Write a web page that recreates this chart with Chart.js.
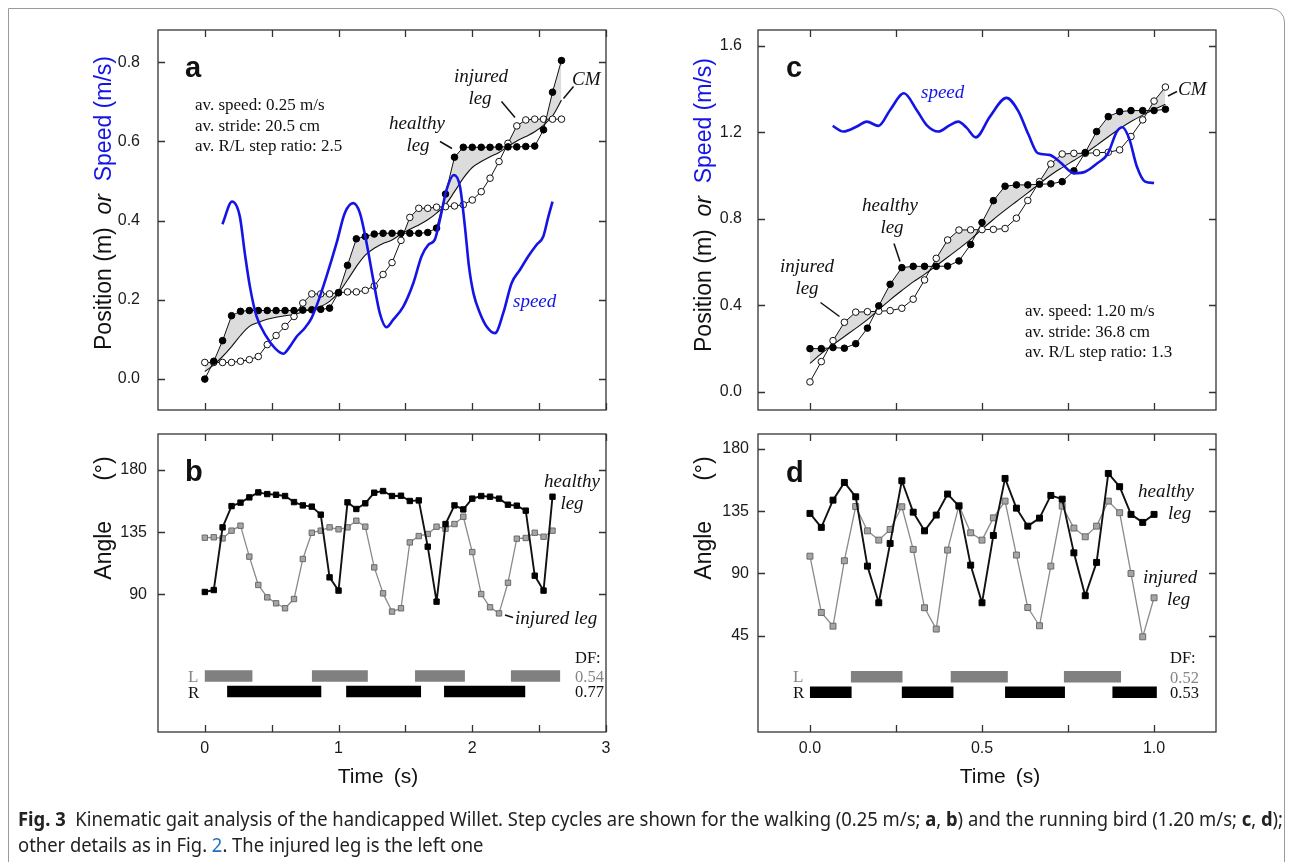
<!DOCTYPE html>
<html><head><meta charset="utf-8">
<script src="https://cdn.jsdelivr.net/npm/chart.js@4.4.1/dist/chart.umd.min.js"></script>
<style>
html,body{margin:0;padding:0;background:#fff;}
body{width:1293px;height:862px;position:relative;overflow:hidden;}
canvas{position:absolute;left:0;top:0;}
#frame{position:absolute;left:8px;top:8px;width:1277px;height:880px;border:1px solid #9a9a9a;border-top-right-radius:14px;box-sizing:border-box;}
#caption{position:absolute;left:18px;top:806px;font-family:'Liberation Sans Narrow','Noto Sans',sans-serif;font-size:19px;line-height:26px;color:#222;white-space:nowrap;z-index:5;}
#caption .ln{transform-origin:0 0;display:block;width:max-content;}
</style></head>
<body>
<div id="frame"></div>
<canvas id="ca" width="1293" height="862"></canvas>
<canvas id="cb" width="1293" height="862"></canvas>
<canvas id="cc" width="1293" height="862"></canvas>
<canvas id="cd" width="1293" height="862"></canvas>
<div id="caption"><span class="ln" id="cap1"><b>Fig. 3</b>&nbsp; Kinematic gait analysis of the handicapped Willet. Step cycles are shown for the walking (0.25 m/s; <b>a</b>, <b>b</b>) and the running bird (1.20 m/s; <b>c</b>, <b>d</b>);</span><span class="ln" id="cap2">other details as in Fig. <span style="color:#1f6fc5">2</span>. The injured leg is the left one</span></div>
<script>
// ---------- DATA ----------
// panel a / b : walking, frames at 15 Hz
const tA = [0,0.067,0.133,0.2,0.267,0.333,0.4,0.467,0.533,0.6,0.667,0.733,0.8,0.867,0.933,1.0,1.067,1.133,1.2,1.267,1.333,1.4,1.467,1.533,1.6,1.667,1.733,1.8,1.867,1.933,2.0,2.067,2.133,2.2,2.267,2.333,2.4,2.467,2.533,2.6,2.667];
const healthyPosA = [0.000,0.045,0.097,0.160,0.171,0.173,0.173,0.173,0.173,0.173,0.173,0.174,0.175,0.176,0.179,0.218,0.287,0.354,0.360,0.366,0.368,0.368,0.368,0.368,0.368,0.370,0.381,0.467,0.560,0.585,0.585,0.585,0.585,0.586,0.586,0.586,0.587,0.588,0.629,0.724,0.804];
const injuredPosA = [0.042,0.042,0.042,0.042,0.045,0.049,0.057,0.087,0.110,0.133,0.158,0.192,0.215,0.215,0.215,0.218,0.220,0.220,0.224,0.235,0.264,0.294,0.350,0.408,0.431,0.431,0.434,0.435,0.437,0.440,0.452,0.473,0.507,0.549,0.595,0.639,0.654,0.656,0.656,0.656,0.656];
const cmPosA = [0.019,0.036,0.057,0.082,0.110,0.133,0.143,0.151,0.156,0.160,0.163,0.170,0.176,0.183,0.196,0.218,0.250,0.284,0.313,0.330,0.342,0.351,0.366,0.378,0.389,0.402,0.419,0.440,0.473,0.507,0.534,0.549,0.561,0.572,0.587,0.601,0.612,0.624,0.641,0.664,0.704];
const speedTA = [0.132,0.204,0.262,0.299,0.337,0.387,0.461,0.524,0.586,0.636,0.686,0.748,0.798,0.848,0.910,0.985,1.047,1.110,1.160,1.210,1.260,1.309,1.359,1.409,1.484,1.559,1.621,1.671,1.720,1.758,1.808,1.863,1.908,1.945,1.975,2.010,2.057,2.107,2.170,2.232,2.294,2.357,2.419,2.481,2.531,2.569,2.600];
const speedA = [0.391,0.448,0.410,0.318,0.234,0.158,0.107,0.078,0.064,0.082,0.107,0.129,0.154,0.196,0.259,0.343,0.419,0.444,0.419,0.343,0.250,0.166,0.131,0.150,0.183,0.242,0.310,0.339,0.352,0.402,0.478,0.515,0.486,0.385,0.285,0.215,0.167,0.133,0.116,0.167,0.242,0.276,0.310,0.339,0.360,0.410,0.448];
const tB = tA.slice(0, 40);
const healthyAngB = [91.7,93.1,138.5,153.9,156.4,160.2,163.8,162.6,162.1,161.2,156.8,154.4,153.5,147.7,102.3,92.7,156.6,151.8,155.9,163.6,164.8,161.2,161.4,157.6,158.0,124.5,84.7,140.9,154.4,151.5,159.3,161.2,160.7,159.3,154.9,154.2,150.6,103.5,92.7,160.7];
const injuredAngB = [131.0,131.3,130.5,136.1,139.7,117.3,96.8,87.8,83.5,79.9,86.6,115.6,134.6,136.1,138.5,137.1,138.5,143.3,139.0,109.5,90.7,77.5,79.9,127.6,132.2,133.7,139.0,137.5,140.9,146.2,120.6,90.2,80.6,76.2,98.4,130.3,130.8,134.6,131.7,136.1];
const stanceLB = [[0,0.356],[0.801,1.219],[1.572,1.945],[2.289,2.657]];
const stanceRB = [[0.167,0.871],[1.057,1.617],[1.789,2.396]];
const dutyB = {L: '0.54', R: '0.77'};
const statsA = ['av. speed: 0.25 m/s', 'av. stride: 20.5 cm', 'av. R/L step ratio: 2.5'];

// panel c / d : running, frames at 30 Hz
const tC = [0,0.033,0.067,0.1,0.133,0.167,0.2,0.233,0.267,0.3,0.333,0.367,0.4,0.433,0.467,0.5,0.533,0.567,0.6,0.633,0.667,0.7,0.733,0.767,0.8,0.833,0.867,0.9,0.933,0.967,1.0,1.033];
const healthyPosC = [0.199,0.199,0.204,0.201,0.222,0.294,0.397,0.497,0.574,0.580,0.580,0.580,0.581,0.605,0.681,0.783,0.884,0.951,0.957,0.957,0.960,0.962,0.972,1.022,1.107,1.204,1.273,1.296,1.301,1.301,1.301,1.307];
const injuredPosC = [0.045,0.139,0.236,0.321,0.368,0.370,0.372,0.375,0.386,0.428,0.517,0.617,0.702,0.748,0.749,0.750,0.751,0.755,0.803,0.885,0.972,1.054,1.100,1.103,1.103,1.106,1.108,1.119,1.181,1.258,1.345,1.410];
const cmPosC = [0.131,0.176,0.217,0.255,0.293,0.333,0.380,0.425,0.468,0.508,0.543,0.583,0.622,0.662,0.705,0.752,0.797,0.840,0.880,0.920,0.963,1.003,1.037,1.070,1.103,1.140,1.180,1.217,1.250,1.280,1.306,1.330];
const speedTC = [0.066,0.097,0.136,0.165,0.199,0.233,0.273,0.310,0.339,0.373,0.407,0.431,0.455,0.482,0.523,0.571,0.605,0.635,0.662,0.696,0.727,0.768,0.800,0.835,0.865,0.892,0.908,0.928,0.950,0.974,1.000];
const speedC = [1.230,1.204,1.227,1.250,1.230,1.304,1.381,1.304,1.234,1.204,1.234,1.250,1.222,1.177,1.273,1.360,1.300,1.190,1.104,1.096,1.062,1.011,1.018,1.057,1.100,1.204,1.224,1.170,1.042,0.972,0.966];
const tD = tC.slice(0, 31);
const healthyAngD = [133.4,123.3,143.0,155.8,145.4,95.3,68.8,111.7,157.0,134.3,120.8,132.2,147.4,138.7,96.0,68.8,117.5,158.7,137.2,124.2,130.0,146.4,143.7,104.9,73.9,98.0,162.3,152.7,132.7,126.9,132.7];
const injuredAngD = [102.5,61.8,51.9,99.2,138.4,120.8,114.1,121.8,138.2,107.4,65.2,49.8,106.9,139.2,119.4,114.1,130.2,142.3,103.3,65.4,52.2,95.3,138.7,122.8,116.5,124.2,142.3,133.9,90.0,44.2,72.4];
const stanceLD = [[0.119,0.269],[0.409,0.575],[0.738,0.904]];
const stanceRD = [[0,0.121],[0.267,0.417],[0.567,0.741],[0.879,1.008]];
const dutyD = {L: '0.52', R: '0.53'};
const statsC = ['av. speed: 1.20 m/s', 'av. stride: 36.8 cm', 'av. R/L step ratio: 1.3'];

// tick values
const xTicksAB = [0,0.5,1,1.5,2,2.5,3];
const xTicksCD = [0,0.25,0.5,0.75,1];
const yTicksA = [0,0.2,0.4,0.6,0.8];
const yTicksB = [90,135,180];
const yTicksC = [0,0.4,0.8,1.2,1.6];
const yTicksD = [45,90,135,180];
const xLabelsAB = {0:'0',1:'1',2:'2',3:'3'};
const xLabelsCD = {0:'0.0',0.5:'0.5',1:'1.0'};

// ---------- STYLE / LAYOUT ----------
const SANS = "'Liberation Sans', Arial, sans-serif";
const SERIF = "'Liberation Serif', 'Times New Roman', serif";
const BLUE = '#1414e6';
const FILLGRAY = '#dcdcdc';
const GRAYLEG = '#858585';

const pts = (xs, ys) => xs.map((x, i) => ({x, y: ys[i]}));
function barData(intervals, level) {
  const d = [];
  intervals.forEach(([s, e], i) => { if (i) d.push({x: s, y: null}); d.push({x: s, y: level}, {x: e, y: level}); });
  return d;
}

const annots = {};

const framePlugin = {
  id: 'frameTicks',
  afterDatasetsDraw(chart) {
    const {ctx, chartArea: a, scales: {x, y}} = chart;
    ctx.save();
    ctx.strokeStyle = '#333'; ctx.lineWidth = 1.3;
    ctx.strokeRect(a.left, a.top, a.right - a.left, a.bottom - a.top);
    ctx.beginPath();
    x.ticks.forEach(t => { const p = Math.round(x.getPixelForValue(t.value)) + 0.5;
      ctx.moveTo(p, a.bottom); ctx.lineTo(p, a.bottom - 7); ctx.moveTo(p, a.top); ctx.lineTo(p, a.top + 7); });
    y.ticks.forEach(t => { const p = Math.round(y.getPixelForValue(t.value)) + 0.5;
      ctx.moveTo(a.left, p); ctx.lineTo(a.left + 7, p); ctx.moveTo(a.right, p); ctx.lineTo(a.right - 7, p); });
    ctx.stroke();
    ctx.restore();
  }
};

function measureParts(ctx, parts) {
  let total = 0;
  parts.forEach(p => { if (p.gap) { p.w = p.gap; } else { ctx.font = p.font; p.w = ctx.measureText(p.text).width; } total += p.w; });
  return total;
}
function drawRotated(ctx, cx, cy, parts) {
  ctx.save(); ctx.translate(cx, cy); ctx.rotate(-Math.PI / 2);
  const total = measureParts(ctx, parts);
  let x = -total / 2; ctx.textBaseline = 'middle'; ctx.textAlign = 'left';
  parts.forEach(p => { if (!p.gap) { ctx.font = p.font; ctx.fillStyle = p.color || '#111'; ctx.fillText(p.text, x, 0); } x += p.w; });
  ctx.restore();
}
function drawHoriz(ctx, cx, cy, parts) {
  const total = measureParts(ctx, parts);
  let x = cx - total / 2; ctx.textBaseline = 'middle'; ctx.textAlign = 'left';
  parts.forEach(p => { if (!p.gap) { ctx.font = p.font; ctx.fillStyle = p.color || '#111'; ctx.fillText(p.text, x, cy); } x += p.w; });
}

const textPlugin = {
  id: 'annotText',
  afterDraw(chart) {
    const cfg = annots[chart.canvas.id]; if (!cfg) return;
    const ctx = chart.ctx;
    ctx.save();
    (cfg.segs || []).forEach(s => { ctx.strokeStyle = '#111'; ctx.lineWidth = 1.5; ctx.beginPath(); ctx.moveTo(s[0], s[1]); ctx.lineTo(s[2], s[3]); ctx.stroke(); });
    (cfg.texts || []).forEach(t => {
      ctx.font = t.font; ctx.fillStyle = t.color || '#111'; ctx.textAlign = t.align || 'left'; ctx.textBaseline = 'alphabetic';
      ctx.fillText(t.text, t.x, t.y);
    });
    if (cfg.ytitle) drawRotated(ctx, cfg.ytitle.x, cfg.ytitle.y, cfg.ytitle.parts);
    if (cfg.xtitle) drawHoriz(ctx, cfg.xtitle.x, cfg.xtitle.y, cfg.xtitle.parts);
    ctx.restore();
  }
};

function makeChart(id, o) {
  const a = o.area;
  return new Chart(document.getElementById(id), {
    type: 'line',
    data: {datasets: o.datasets},
    options: {
      responsive: false, animation: false, devicePixelRatio: 1,
      layout: {padding: {left: a.l - 60, top: a.t, right: 1293 - a.r, bottom: 862 - a.b - 40}},
      plugins: {legend: {display: false}, tooltip: {enabled: false}, filler: {drawTime: 'beforeDatasetsDraw', propagate: false}},
      elements: {line: {borderJoinStyle: 'round'}},
      scales: {
        x: {type: 'linear', min: o.xr[0], max: o.xr[1], grid: {display: false, drawTicks: false}, border: {display: false},
            afterBuildTicks: s => { s.ticks = o.xTicks.map(v => ({value: v})); },
            afterFit: s => { s.height = 40; },
            ticks: {display: !!o.xLabels, autoSkip: false, maxRotation: 0, padding: 7, color: '#1a1a1a',
                    font: {family: SANS, size: 16},
                    callback: v => (o.xLabels && o.xLabels[v] !== undefined) ? o.xLabels[v] : ''}},
        y: {type: 'linear', min: o.yr[0], max: o.yr[1], grid: {display: false, drawTicks: false}, border: {display: false},
            afterBuildTicks: s => { s.ticks = o.yTicks.map(v => ({value: v})); },
            afterFit: s => { s.width = 60; },
            ticks: {autoSkip: false, padding: o.yPad, color: '#1a1a1a', font: {family: SANS, size: 16},
                    callback: o.yFmt}}
      }
    },
    plugins: [framePlugin, textPlugin]
  });
}

const legFont = 'italic 19px ' + SERIF;
const statFont = '17px ' + SERIF;
const letterFont = 'bold 29px ' + SANS;
const lrFont = '17px ' + SERIF;
const dfFont = '16.5px ' + SERIF;
const titleFont = '23px ' + SANS;
const titleItal = 'italic 23px ' + SANS;
const xTitleFont = '21px ' + SANS;

function posDatasets(tH, h, tI, inj, tCm, cm, tS, sp) {
  return [
    {data: pts(tS, sp), borderColor: BLUE, borderWidth: 2.6, pointRadius: 0, cubicInterpolationMode: 'monotone', fill: false},
    {data: pts(tH, h), borderColor: '#111', borderWidth: 1, pointRadius: 3.3, pointBackgroundColor: '#000', pointBorderColor: '#000', pointBorderWidth: 1, tension: 0,
     fill: {target: 3, above: FILLGRAY, below: 'rgba(0,0,0,0)'}},
    {data: pts(tI, inj), borderColor: '#111', borderWidth: 1, pointRadius: 3.3, pointBackgroundColor: '#fff', pointBorderColor: '#111', pointBorderWidth: 1, tension: 0,
     fill: {target: 3, above: FILLGRAY, below: 'rgba(0,0,0,0)'}},
    {data: pts(tCm, cm), borderColor: '#111', borderWidth: 1.1, pointRadius: 0, cubicInterpolationMode: 'monotone', fill: false}
  ];
}
function angDatasets(t, h, inj, stL, stR, lvL, lvR, sq) {
  return [
    {data: pts(t, h), borderColor: '#111', borderWidth: 1.9, pointStyle: 'rect', pointRadius: sq, pointBackgroundColor: '#000', pointBorderColor: '#000', pointBorderWidth: 1, tension: 0, fill: false},
    {data: pts(t, inj), borderColor: '#8a8a8a', borderWidth: 1.3, pointStyle: 'rect', pointRadius: sq, pointBackgroundColor: '#a5a5a5', pointBorderColor: '#6a6a6a', pointBorderWidth: 1, tension: 0, fill: false},
    {data: barData(stL, lvL), borderColor: '#808080', borderWidth: 11.5, borderCapStyle: 'butt', pointRadius: 0, tension: 0, fill: false, spanGaps: false},
    {data: barData(stR, lvR), borderColor: '#000', borderWidth: 11.5, borderCapStyle: 'butt', pointRadius: 0, tension: 0, fill: false, spanGaps: false}
  ];
}

// ----- panel a -----
annots.ca = {
  texts: [
    {text: 'a', x: 185, y: 77, font: letterFont},
    {text: statsA[0], x: 195, y: 110, font: statFont},
    {text: statsA[1], x: 195, y: 131, font: statFont},
    {text: statsA[2], x: 195, y: 151, font: statFont},
    {text: 'healthy', x: 417, y: 129, font: legFont, align: 'center'},
    {text: 'leg', x: 418, y: 151, font: legFont, align: 'center'},
    {text: 'injured', x: 481, y: 82, font: legFont, align: 'center'},
    {text: 'leg', x: 480, y: 104, font: legFont, align: 'center'},
    {text: 'CM', x: 572, y: 85, font: legFont},
    {text: 'speed', x: 513, y: 307, font: legFont, color: BLUE}
  ],
  segs: [[440, 141.5, 452, 148.5], [501.5, 101.5, 515, 117.5], [563.5, 98.5, 573.5, 86.5]],
  ytitle: {x: 105, y: 203, parts: [{text: 'Position (m)', font: titleFont}, {text: '  or  ', font: titleItal}, {text: 'Speed (m/s)', font: titleFont, color: BLUE}]}
};
makeChart('ca', {
  area: {l: 158, t: 30, r: 606, b: 410}, xr: [-0.35, 3.0], yr: [-0.078, 0.881],
  xTicks: xTicksAB, xLabels: null, yTicks: yTicksA, yPad: 18, yFmt: v => v.toFixed(1),
  datasets: posDatasets(tA, healthyPosA, tA, injuredPosA, tA, cmPosA, speedTA, speedA)
});

// ----- panel b -----
annots.cb = {
  texts: [
    {text: 'b', x: 185, y: 481, font: letterFont},
    {text: 'healthy', x: 572, y: 487, font: legFont, align: 'center'},
    {text: 'leg', x: 572, y: 509, font: legFont, align: 'center'},
    {text: 'injured leg', x: 515, y: 624, font: legFont},
    {text: 'L', x: 188, y: 682, font: lrFont, color: GRAYLEG},
    {text: 'R', x: 188, y: 698, font: lrFont},
    {text: 'DF:', x: 575, y: 663, font: dfFont},
    {text: dutyB.L, x: 575, y: 682, font: dfFont, color: GRAYLEG},
    {text: dutyB.R, x: 575, y: 697, font: dfFont}
  ],
  segs: [[505, 615, 513, 617.5]],
  ytitle: {x: 105, y: 518, parts: [{text: 'Angle', font: titleFont}, {gap: 40}, {text: '(°)', font: titleFont}]},
  xtitle: {x: 378, y: 777, parts: [{text: 'Time', font: xTitleFont}, {gap: 10}, {text: '(s)', font: xTitleFont}]}
};
makeChart('cb', {
  area: {l: 158, t: 434, r: 606, b: 732}, xr: [-0.35, 3.0], yr: [-9.7, 206.1],
  xTicks: xTicksAB, xLabels: xLabelsAB, yTicks: yTicksB, yPad: 11, yFmt: v => String(v),
  datasets: angDatasets(tB, healthyAngB, injuredAngB, stanceLB, stanceRB, 30.8, 19.6, 3.8)
});

// ----- panel c -----
annots.cc = {
  texts: [
    {text: 'c', x: 786, y: 77, font: letterFont},
    {text: 'speed', x: 921, y: 98, font: legFont, color: BLUE},
    {text: 'CM', x: 1178, y: 95, font: legFont},
    {text: 'healthy', x: 890, y: 211, font: legFont, align: 'center'},
    {text: 'leg', x: 892, y: 233, font: legFont, align: 'center'},
    {text: 'injured', x: 807, y: 272, font: legFont, align: 'center'},
    {text: 'leg', x: 807, y: 294, font: legFont, align: 'center'},
    {text: statsC[0], x: 1025, y: 316, font: statFont},
    {text: statsC[1], x: 1025, y: 337, font: statFont},
    {text: statsC[2], x: 1025, y: 357, font: statFont}
  ],
  segs: [[1168, 96, 1177, 91.5], [894, 243.5, 900, 261.5], [820.5, 302.5, 839.5, 316.5]],
  ytitle: {x: 705, y: 205, parts: [{text: 'Position (m)', font: titleFont}, {text: '  or  ', font: titleItal}, {text: 'Speed (m/s)', font: titleFont, color: BLUE}]}
};
makeChart('cc', {
  area: {l: 758, t: 30, r: 1216, b: 410}, xr: [-0.151, 1.180], yr: [-0.085, 1.674],
  xTicks: xTicksCD, xLabels: null, yTicks: yTicksC, yPad: 16, yFmt: v => v.toFixed(1),
  datasets: posDatasets(tC, healthyPosC, tC, injuredPosC, tC, cmPosC, speedTC, speedC)
});

// ----- panel d -----
annots.cd = {
  texts: [
    {text: 'd', x: 786, y: 482, font: letterFont},
    {text: 'healthy', x: 1138, y: 497, font: legFont},
    {text: 'leg', x: 1168, y: 519, font: legFont},
    {text: 'injured', x: 1143, y: 583, font: legFont},
    {text: 'leg', x: 1167, y: 605, font: legFont},
    {text: 'L', x: 793, y: 682, font: lrFont, color: GRAYLEG},
    {text: 'R', x: 793, y: 698, font: lrFont},
    {text: 'DF:', x: 1170, y: 663, font: dfFont},
    {text: dutyD.L, x: 1170, y: 683, font: dfFont, color: GRAYLEG},
    {text: dutyD.R, x: 1170, y: 698, font: dfFont}
  ],
  ytitle: {x: 705, y: 518, parts: [{text: 'Angle', font: titleFont}, {gap: 40}, {text: '(°)', font: titleFont}]},
  xtitle: {x: 1000, y: 777, parts: [{text: 'Time', font: xTitleFont}, {gap: 10}, {text: '(s)', font: xTitleFont}]}
};
makeChart('cd', {
  area: {l: 758, t: 434, r: 1216, b: 732}, xr: [-0.151, 1.180], yr: [-24.6, 190.8],
  xTicks: xTicksCD, xLabels: xLabelsCD, yTicks: yTicksD, yPad: 9, yFmt: v => String(v),
  datasets: angDatasets(tD, healthyAngD, injuredAngD, stanceLD, stanceRD, 15.3, 4.2, 4.2)
});

// caption fit
(function () {
  const c1 = document.getElementById('cap1'), c2 = document.getElementById('cap2');
  const w = c1.getBoundingClientRect().width;
  const s = 1265 / w;
  c1.style.transform = 'scaleX(' + s + ')';
  c2.style.transform = 'scaleX(' + s + ')';
})();
</script>
</body></html>
